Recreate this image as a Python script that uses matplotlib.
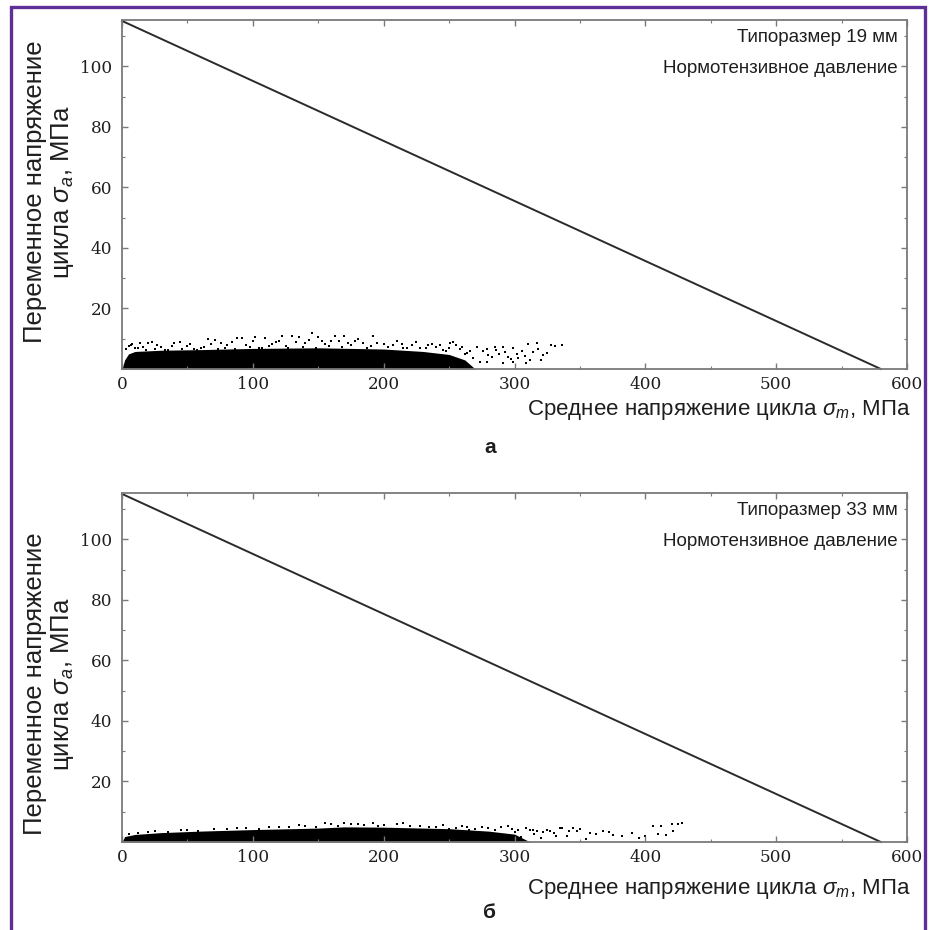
import matplotlib
matplotlib.use("Agg")
import matplotlib.pyplot as plt
from matplotlib.patches import Rectangle
from matplotlib.ticker import MultipleLocator

plt.rcParams['mathtext.fontset'] = 'custom'
plt.rcParams['mathtext.rm'] = 'Liberation Sans'
plt.rcParams['mathtext.it'] = 'Liberation Sans:italic'
plt.rcParams['font.family'] = ['Liberation Sans', 'DejaVu Sans']

# ---------------- data ----------------
# Goodman limit line (mean stress, amplitude)
line_sm = [0, 580]
line_sa = [115, 0]

# Panel a: upper envelope of dense cloud
a_env_sm = [0, 2, 5, 10, 30, 60, 100, 150, 200, 230, 250, 262, 270]
a_env_sa = [0, 3.0, 5.0, 5.8, 6.2, 6.4, 6.8, 7.0, 6.6, 5.8, 4.8, 3.0, 0]
# Panel a: scattered individual points
a_sm = [8, 14, 20, 23, 40, 44, 66, 71, 76, 88, 92, 102, 109, 122, 130, 135, 145, 150, 163, 170,
        184, 192, 207, 214, 222, 234, 251, 255, 264, 268, 271, 274, 279, 279, 285, 291, 291, 299,
        299, 306, 309, 310, 314, 317, 331,
        5, 12, 30, 50, 60, 80, 95, 115, 125, 140, 155, 175, 190, 200, 215, 240, 245, 258, 262,
        280, 288, 295, 303, 320, 325, 336, 33, 55, 105, 118, 160, 178, 228, 248,
        3, 7, 10, 16, 18, 25, 27, 35, 38, 46, 52, 57, 63, 68, 73, 79, 84, 86, 98, 100, 107, 112,
        120, 127, 133, 138, 143, 148, 153, 158, 166, 168, 173, 180, 187, 195, 203, 210, 218,
        225, 232, 237, 243, 250, 253, 260, 266, 276, 283, 286, 293, 297, 302, 308, 312, 318,
        322, 328]
a_sa = [8.3, 8.6, 8.6, 8.9, 8.6, 8.9, 9.9, 9.6, 8.6, 10.2, 10.2, 10.6, 10.2, 10.9, 10.9, 10.6, 11.9,
        10.6, 10.9, 10.9, 8.6, 10.9, 7.9, 8.3, 7.9, 7.9, 8.6, 7.9, 5.3, 3.6, 7.3, 2.3, 6.6, 2.3,
        7.3, 7.3, 2.0, 6.9, 2.3, 6.0, 2.0, 8.3, 5.6, 8.6, 7.6,
        7.5, 7.0, 7.2, 7.5, 7.0, 7.8, 8.0, 8.3, 7.6, 8.5, 8.2, 8.0, 7.5, 8.2, 7.0, 7.2, 6.3, 6.5,
        4.8, 4.5, 5.0, 4.0, 3.5, 3.0, 5.2, 7.8, 6.4, 6.6, 7.0, 9.0, 9.2, 9.4, 6.8, 5.8,
        6.5, 7.8, 6.8, 7.4, 6.2, 6.6, 7.9, 6.4, 7.6, 6.7, 8.2, 6.3, 7.4, 8.4, 6.6, 7.1, 8.8, 6.5,
        7.2, 9.2, 6.8, 7.6, 9.3, 6.9, 8.9, 7.3, 9.6, 7.0, 9.1, 7.5, 9.4, 7.2, 8.6, 9.9, 7.0, 8.5,
        7.3, 9.2, 6.9, 8.8, 6.8, 8.1, 7.8, 6.9, 9.0, 7.4, 6.0, 5.8, 4.0, 6.2, 5.5, 3.2, 5.0, 4.2,
        3.0, 6.5, 4.5, 8.0]

# Panel b: upper envelope of dense cloud
b_env_sm = [0, 2, 10, 30, 60, 100, 150, 170, 200, 250, 280, 300, 312]
b_env_sa = [0, 1.8, 2.5, 3.1, 3.6, 4.1, 4.6, 5.0, 4.9, 4.4, 3.6, 2.6, 0]
# Panel b: scattered individual points
b_sm = [264, 280, 295, 309, 314, 317, 312, 325, 327, 330, 335, 336, 345, 348, 358, 368, 375, 382,
        395, 400, 406, 412, 416, 420, 421, 425,
        20, 45, 70, 95, 120, 140, 160, 175, 185, 200, 220, 240, 255, 270, 300, 305, 320, 340, 355,
        5, 12, 25, 35, 50, 58, 80, 88, 105, 112, 128, 135, 148, 155, 165, 170, 180, 192, 196,
        210, 215, 228, 235, 245, 250, 260, 265, 275, 285, 290, 298, 303, 315, 322, 332, 342,
        350, 362, 372, 390, 410, 428]
b_sa = [5.0, 4.5, 5.3, 4.6, 4.0, 3.7, 4.0, 4.0, 3.7, 3.0, 4.6, 4.7, 4.6, 3.7, 3.0, 3.7, 2.3, 2.0,
        1.3, 2.0, 5.3, 5.3, 2.3, 6.0, 3.7, 6.0,
        3.3, 3.8, 4.2, 4.5, 5.0, 5.3, 5.8, 6.0, 5.7, 5.5, 5.2, 5.0, 4.6, 4.2, 3.2, 1.5, 1.2, 2.0, 1.0,
        2.8, 3.1, 3.6, 3.2, 4.0, 3.7, 4.2, 4.7, 4.4, 5.0, 4.8, 5.6, 5.1, 6.2, 5.4, 6.4, 5.9, 6.3,
        5.2, 5.8, 6.2, 5.4, 4.9, 5.6, 4.3, 5.2, 4.0, 4.8, 3.8, 5.0, 4.4, 3.8, 2.6, 3.2, 2.0, 3.5,
        4.4, 2.5, 3.4, 3.0, 2.8, 6.4]

x_ticks = [0, 100, 200, 300, 400, 500, 600]
y_ticks = [20, 40, 60, 80, 100]

panels = [
    dict(env_sm=a_env_sm, env_sa=a_env_sa, sm=a_sm, sa=a_sa,
         title1="Типоразмер 19 мм", letter="а"),
    dict(env_sm=b_env_sm, env_sa=b_env_sa, sm=b_sm, sa=b_sa,
         title1="Типоразмер 33 мм", letter="б"),
]

W, H = 934, 930
fig = plt.figure(figsize=(W / 100, H / 100), dpi=100)

def fx(px):
    return px / W

def fy(py):
    return 1 - py / H

axes_rects = [(122, 20, 907, 369), (122, 493, 907, 842)]
ylabel_cy = [192, 684]
xlabel_y = [410, 889]
letter_y = [447, 912]

grey = '#7a7a7a'
txt = '#1e1e1e'
for i, p in enumerate(panels):
    l, t, r, b = axes_rects[i]
    ax = fig.add_axes([fx(l), fy(b), (r - l) / W, (b - t) / H])
    ax.fill_between(p['env_sm'], 0, p['env_sa'], color='black', lw=0)
    ax.scatter(p['sm'], p['sa'], s=4.5, marker='s', color='black', linewidths=0)
    ax.plot(line_sm, line_sa, color='#2a2a2a', lw=1.4, clip_on=False)
    ax.set_xlim(0, 600)
    ax.set_ylim(0, 115.3)
    ax.set_xticks(x_ticks)
    ax.set_yticks(y_ticks)
    ax.xaxis.set_minor_locator(MultipleLocator(50))
    ax.yaxis.set_minor_locator(MultipleLocator(10))
    ax.tick_params(which='both', direction='in', top=True, right=True, color=grey)
    ax.tick_params(which='major', length=4, width=1)
    ax.tick_params(which='minor', length=2.5, width=0.8)
    ax.tick_params(axis='y', which='major', pad=7)
    ax.tick_params(axis='x', which='major', pad=5)
    for lab in ax.get_xticklabels() + ax.get_yticklabels():
        lab.set_fontfamily('DejaVu Serif')
        lab.set_fontsize(12.2)
        lab.set_color(txt)
    for s in ax.spines.values():
        s.set_color(grey)
        s.set_linewidth(1.3)
    ax.text(0.988, 0.95, p['title1'], transform=ax.transAxes, ha='right', va='center',
            fontsize=13.5, color=txt)
    ax.text(0.988, 0.862, "Нормотензивное давление", transform=ax.transAxes, ha='right',
            va='center', fontsize=13.5, color=txt,
            bbox=dict(facecolor='white', edgecolor='none', pad=0.5))
    fig.text(fx(35), fy(ylabel_cy[i]), "Переменное напряжение", rotation=90,
             ha='center', va='center', fontsize=18.5, color=txt)
    fig.text(fx(63), fy(ylabel_cy[i]), r"цикла $\sigma_a$, МПа", rotation=90,
             ha='center', va='center', fontsize=18.5, color=txt)
    fig.text(fx(910), fy(xlabel_y[i]), r"Среднее напряжение цикла $\sigma_m$, МПа",
             ha='right', va='center', fontsize=16, color=txt)
    fig.text(fx(490), fy(letter_y[i]), p['letter'], ha='center', va='center',
             fontsize=15, fontweight='bold', color=txt)

# purple frame
fig.patches.append(Rectangle((fx(11), -0.05), fx(925) - fx(11), fy(7) + 0.05,
                             transform=fig.transFigure, fill=False,
                             edgecolor='#5f2f98', linewidth=2.4))

fig.savefig("out.png", dpi=100)
